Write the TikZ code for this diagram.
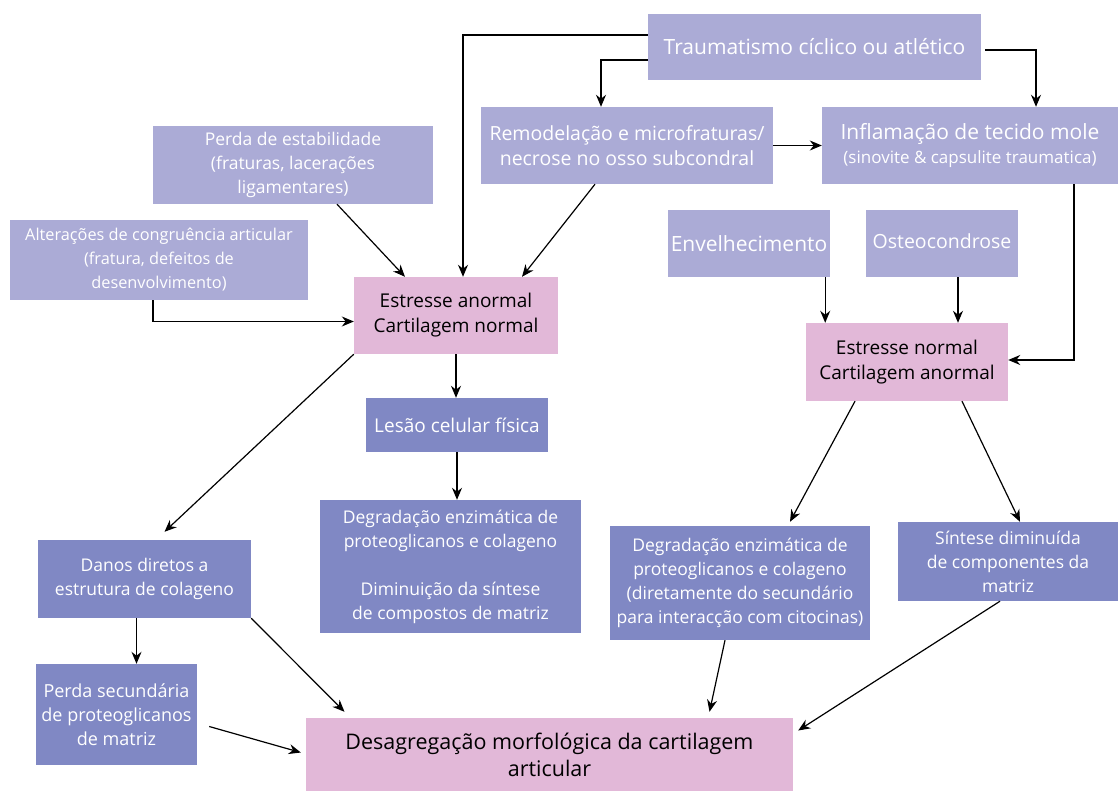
\documentclass[tikz,border=0pt]{standalone}
\usepackage{fontspec}
\setmainfont{Open Sans}
\usetikzlibrary{arrows.meta,positioning}
\definecolor{lilac}{HTML}{ABABD6}
\definecolor{indigo}{HTML}{8088C4}
\definecolor{rose}{HTML}{E2B8D8}

\begin{document}
\begin{tikzpicture}[x=1pt,y=-1pt,
 box/.style={align=center,inner sep=2pt,text=white,font=\fontsize{17.5}{24}\selectfont},
 light/.style={box,fill=lilac},
 dark/.style={box,fill=indigo},
 pinkbox/.style={box,fill=rose,text=black,font=\fontsize{19}{25}\selectfont},
 arrow/.style={-{Stealth[length=12pt,width=10pt]},line width=1.2pt,draw=black}
]
\useasboundingbox (0,0) rectangle (1118,791);
% causes
\node[light,minimum width=333pt,minimum height=66pt,font=\fontsize{21}{25}\selectfont] (trauma) at (814.5,47) {Traumatismo cíclico ou atlético};
\node[light,minimum width=292pt,minimum height=77pt,font=\fontsize{19.5}{25}\selectfont] (remodel) at (627,145.5) {Remodelação e microfraturas/\\necrose no osso subcondral};
\node[light,minimum width=296pt,minimum height=77pt,font=\fontsize{21}{24}\selectfont] (inflam) at (970,145.5) {Inflamação de tecido mole\\{\fontsize{17}{20}\selectfont(sinovite \& capsulite traumatica)}};
\node[light,minimum width=280pt,minimum height=78pt] (perda) at (293,165) {Perda de estabilidade\\(fraturas, lacerações\\ligamentares)};
\node[light,minimum width=298pt,minimum height=80pt,font=\fontsize{16.3}{24}\selectfont] (congru) at (159,260) {Alterações de congruência articular\\(fratura, defeitos de\\desenvolvimento)};
\node[light,minimum width=162pt,minimum height=67pt,font=\fontsize{21}{25}\selectfont] (envelh) at (749,243.5) {Envelhecimento};
\node[light,minimum width=152pt,minimum height=67pt,font=\fontsize{19.5}{25}\selectfont] (osteo) at (942,243.5) {\raisebox{5pt}{Osteocondrose}};
% stress states
\node[pinkbox,minimum width=204pt,minimum height=77pt] (anormal) at (456,315.5) {Estresse anormal\\Cartilagem normal};
\node[pinkbox,minimum width=202pt,minimum height=78pt] (anormcart) at (907,362) {Estresse normal\\Cartilagem anormal};
% effects
\node[dark,minimum width=182pt,minimum height=54pt,font=\fontsize{19}{24}\selectfont] (lesao) at (457,425) {Lesão celular física};
\node[dark,minimum width=261pt,minimum height=133pt] (degrad) at (450.5,566.5) {Degradação enzimática de\\proteoglicanos e colageno\\[24pt]Diminuição da síntese\\de compostos de matriz};
\node[dark,minimum width=213pt,minimum height=78pt] (danos) at (144.5,579) {Danos diretos a\\estrutura de colageno};
\node[dark,minimum width=161pt,minimum height=101pt,font=\fontsize{18}{24}\selectfont] (perdasec) at (116.5,714.5) {Perda secundária\\de proteoglicanos\\de matriz};
\node[dark,minimum width=260pt,minimum height=114pt] (degradcit) at (740,583) {Degradação enzimática de\\proteoglicanos e colageno\\(diretamente do secundário\\para interacção com citocinas)};
\node[dark,minimum width=220pt,minimum height=79pt] (sintese) at (1008,561.5) {Síntese diminuída\\de componentes da\\matriz};
\node[pinkbox,minimum width=487pt,minimum height=73pt,font=\fontsize{21.5}{27}\selectfont] (desag) at (549.5,754.5) {Desagregação morfológica da cartilagem\\articular};
% connectors
\draw[arrow] ([yshift=12pt]trauma.west) -| ([xshift=7pt]anormal.north);
\draw[arrow] ([yshift=-13pt]trauma.west) -| ([xshift=-26pt]remodel.north);
\draw[arrow] ([xshift=4pt,yshift=-3pt]trauma.east) -| ([xshift=66pt]inflam.north);
\draw[arrow] (remodel.east) -- (inflam.west);
\draw[arrow] ([xshift=-32pt]remodel.south) -- ([xshift=66pt]anormal.north);
\draw[arrow] ([xshift=44pt]perda.south) -- ([xshift=-51pt]anormal.north);
\draw[arrow] ([xshift=-6pt]congru.south) |- ([yshift=-6pt]anormal.west);
\draw[arrow] ([xshift=104pt]inflam.south) |- ([yshift=2pt]anormcart.east);
\draw[arrow] ([xshift=-5pt]envelh.south east) -- ([xshift=-5pt]envelh.south east |- anormcart.north);
\draw[arrow] ([xshift=16pt]osteo.south) -- ([xshift=16pt]osteo.south |- anormcart.north);
\draw[arrow] (anormal.south) -- (anormal.south |- lesao.north);
\draw[arrow] (anormal.south west) -- ([xshift=20pt,yshift=8pt]danos.north);
\draw[arrow] (lesao.south) -- (lesao.south |- degrad.north);
\draw[arrow] ([xshift=-52pt]anormcart.south) -- ([xshift=50pt,yshift=4pt]degradcit.north);
\draw[arrow] ([xshift=55pt]anormcart.south) -- ([xshift=12pt]sintese.north);
\draw[arrow] ([xshift=-8pt]danos.south) -- ([xshift=-8pt]danos.south |- perdasec.north);
\draw[arrow] (danos.south east) -- ([xshift=-205pt,yshift=6pt]desag.north);
\draw[arrow] ([xshift=12pt,yshift=-12pt]perdasec.east) -- ([xshift=-5pt,yshift=2pt]desag.west);
\draw[arrow] ([xshift=-15pt]degradcit.south) -- ([xshift=160pt,yshift=6pt]desag.north);
\draw[arrow] ([xshift=-8pt]sintese.south) -- ([xshift=5pt,yshift=24pt]desag.east);
\end{tikzpicture}
\end{document}
